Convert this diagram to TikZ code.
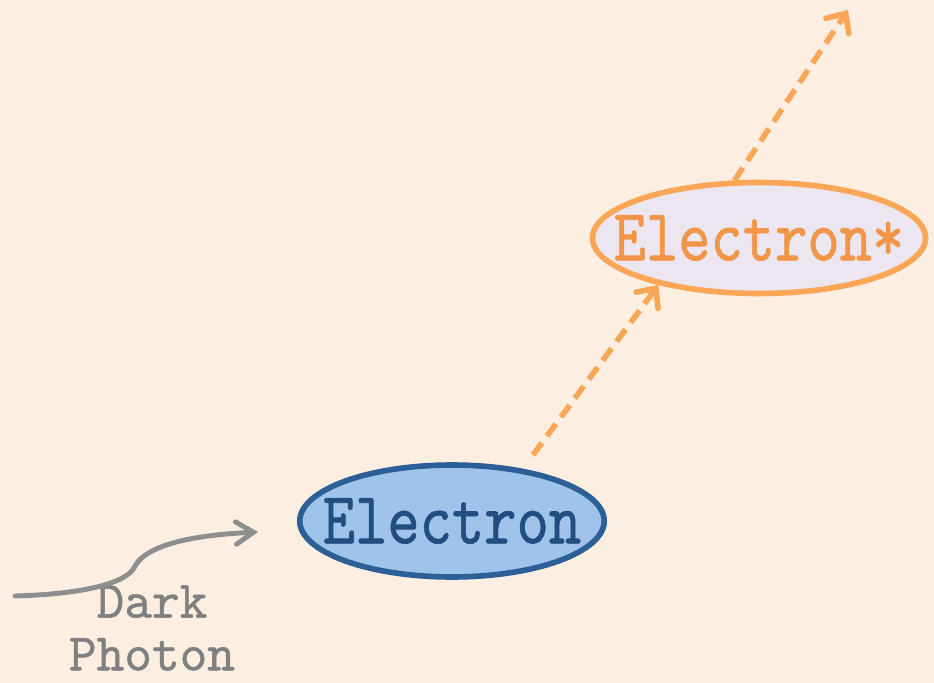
\documentclass[tikz,border=0pt]{standalone}
\usepackage{xcolor}
\usepackage{fontspec}
\usepackage{tikz}
\usetikzlibrary{positioning, arrows.meta, shapes.geometric}
\newfontfamily\typewriter{lmmono10-regular}[Extension=.otf, FakeBold=0.9]
\newcommand{\tallword}[1]{\scalebox{1}[1.2]{#1}}
\definecolor{peach}{HTML}{FDEEE2}
\definecolor{elecfill}{HTML}{9FC3EA}
\definecolor{elecblue}{HTML}{2B5F95}
\definecolor{electext}{HTML}{234D80}
\definecolor{excfill}{HTML}{ECE6F1}
\definecolor{excorange}{HTML}{FAA657}
\definecolor{exctext}{HTML}{F19548}
\definecolor{photongray}{HTML}{8E8E8E}

\begin{document}
\begin{tikzpicture}[x=0.02cm, y=-0.02cm,
    enode/.style={draw=elecblue, ellipse, line width=3.2pt, fill=elecfill, text=electext,
      minimum height=2.24cm, inner xsep=-0.43cm, inner ysep=0pt, font=\typewriter\fontsize{35}{40}\selectfont},
    xnode/.style={draw=excorange, ellipse, line width=3.2pt, fill=excfill, text=exctext,
      minimum height=2.22cm, inner xsep=-0.55cm, inner ysep=0pt, font=\typewriter\fontsize{35}{40}\selectfont},
    decay/.style={excorange, line width=3.2pt, dash pattern=on 0.3cm off 0.17cm,
      -{Straight Barb[length=3mm, width=5.5mm, line cap=round]}},
    photon/.style={photongray, line width=2.8pt, line cap=round,
      -{Straight Barb[length=3.5mm, width=4.5mm, line cap=round]}}]

  % page
  \fill[peach] (0,0) rectangle (934,683);
  \useasboundingbox (0,0) rectangle (934,683);

  \node[enode] (electron) at (452,521) {\tallword{Electron}};
  \node[xnode] (excited) at (759,238) {\tallword{Electron*}};
  \node[text=gray, align=center, inner sep=0pt, font=\typewriter\fontsize{30}{30}\selectfont] (label) at (152,628)
    {Dark\\Photon};

  \coordinate (source) at (15,596);
  \coordinate (hit) at (258,532);
  \coordinate (emit) at (533,455);
  \coordinate (away) at (848,10);

  \draw[photon] (source) .. controls (85,594) and (125,583) .. (134,568)
                         .. controls (142,550) and (175,536) .. (hit);
  \draw[decay] (emit) -- (excited.205);
  \draw[decay] (excited.113) -- (away);
\end{tikzpicture}
\end{document}
